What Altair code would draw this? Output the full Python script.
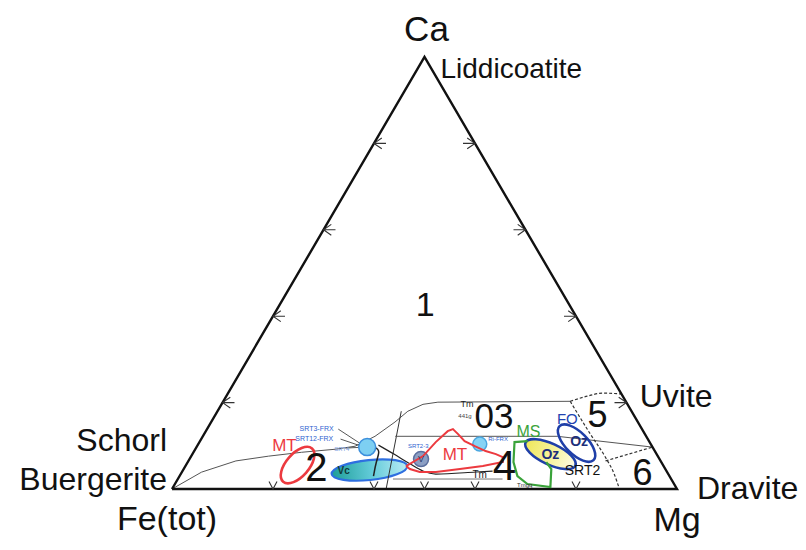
import altair as alt
import pandas as pd

FONT = "Liberation Sans"

# ---------------- data (ternary compositions: Ca, Mg; Fe = 1 - Ca - Mg) -------------
tri_ca = [0, 0, 1, 0]
tri_mg = [0, 1, 0, 0]

tick_vals = [0.2, 0.4, 0.6, 0.8]
bottom_tick_mg = [0.2, 0.4, 0.5, 0.6, 0.8]

# solid field boundaries
curve_a_ca = [0, 0.039, 0.065, 0.076, 0.085, 0.092, 0.099, 0.122, 0.155, 0.180, 0.196, 0.201, 0.203]
curve_a_mg = [0, 0.039, 0.094, 0.153, 0.214, 0.277, 0.313, 0.341, 0.364, 0.377, 0.399, 0.426, 0.687]
vert_ca = [0.180, 0.0]
vert_mg = [0.364, 0.424]
mid_ca = [0.122, 0.122, 0.097]
mid_mg = [0.381, 0.702, 0.903]

# dotted / dashed boundaries (fields 5 and 6)
arc5_ca = [0.203, 0.215, 0.222, 0.220]
arc5_mg = [0.687, 0.715, 0.741, 0.780]
curve56_ca = [0.203, 0.127, 0.074, 0.035, 0.0]
curve56_mg = [0.687, 0.765, 0.821, 0.858, 0.886]
dash6_ca = [0.065, 0.097]
dash6_mg = [0.826, 0.903]

# thin drawn lines
tm_ca = [0.1016, 0.0808, 0.0577, 0.0416, 0.0346, 0.0393, 0.0416]
tm_mg = [0.358, 0.399, 0.443, 0.476, 0.505, 0.582, 0.614]
base_ca = [0.0231, 0.0231]
base_mg = [0.426, 0.643]
hook_ca = [0.099, 0.097, 0.088, 0.065, 0.030]
hook_mg = [0.336, 0.355, 0.368, 0.372, 0.384]
lead_ca = [0.1386, 0.0993, 0.1155, 0.097, 0.0947, 0.097]
lead_mg = [0.260, 0.331, 0.276, 0.332, 0.296, 0.333]
lead_id = ["a", "a", "b", "b", "c", "c"]

# red MT field (closed loop)
mt_ca = [0.0531, 0.0762, 0.1085, 0.1339, 0.1386, 0.1270, 0.1109, 0.0993, 0.0878, 0.0808,
         0.0739, 0.0624, 0.0531, 0.0462, 0.0393, 0.0393, 0.0462, 0.0531]
mt_mg = [0.437, 0.459, 0.468, 0.479, 0.487, 0.503, 0.524, 0.550, 0.577, 0.601,
         0.618, 0.624, 0.589, 0.547, 0.503, 0.471, 0.448, 0.437]
# green MS field
ms_ca = [0.1109, 0.1085, 0.0624, 0.0300, 0.0115, 0.0046, 0.0462, 0.0624]
ms_mg = [0.649, 0.624, 0.645, 0.669, 0.698, 0.747, 0.728, 0.710]

# ellipse / circle centres
mt_ell = (0.0554, 0.221)
vc_ell = (0.0439, 0.369)
oz_yel = (0.0808, 0.709)
oz_blue = (0.1062, 0.748)
circ1 = (0.097, 0.338)
circ2 = (0.0693, 0.4585)
circ3 = (0.1039, 0.5575)

# field numbers
field_txt = ["1", "2", "03", "4", "5", "6"]
field_ca = [0.423, 0.046, 0.166, 0.051, 0.169, 0.035]
field_mg = [0.290, 0.263, 0.5546, 0.633, 0.758, 0.914]

# ---------------- helpers ----------------
X0, X1 = -0.32475, 1.23961
Y0, Y1 = -0.12268, 1.11343
XE = alt.X("x:Q", scale=alt.Scale(domain=[X0, X1], nice=False, zero=False), axis=None)
YE = alt.Y("y:Q", scale=alt.Scale(domain=[Y0, Y1], nice=False, zero=False), axis=None)


def pts(ca, mg, **cols):
    df = pd.DataFrame({"ca": ca, "mg": mg, **cols})
    df["x"] = df["mg"] + df["ca"] / 2
    df["y"] = df["ca"]
    df["i"] = range(len(df))
    return df


def line(df, detail=None, **mk):
    enc = dict(x=XE, y=YE, order="i:Q")
    if detail:
        enc["detail"] = detail
    return alt.Chart(df).mark_line(**mk).encode(**enc)


def label(txt, ca, mg, **mk):
    df = pts([ca], [mg], t=[txt])
    return alt.Chart(df).mark_text(font=FONT, **mk).encode(x=XE, y=YE, text="t:N")


def ell_path(k):
    c = 0.5523
    a, b = round(c * k, 4), round(k, 4)
    return (f"M 1 0 C 1 {a} {c} {b} 0 {b} C {-c} {b} -1 {a} -1 0 "
            f"C -1 {-a} {-c} {-b} 0 {-b} C {c} {-b} 1 {-a} 1 0 Z")


def sym(centre, **mk):
    df = pts([centre[0]], [centre[1]])
    return alt.Chart(df).mark_point(**mk).encode(x=XE, y=YE)


layers = []

# filled ellipses first
vc_grad = alt.Gradient(gradient="linear", x1=0, y1=0, x2=1, y2=0,
                       stops=[alt.GradientStop(color="#1f9e98", offset=0),
                              alt.GradientStop(color="#5fc9d6", offset=0.5),
                              alt.GradientStop(color="#b9ecf6", offset=1)])
layers.append(sym(vc_ell, shape=ell_path(0.263), size=5776, angle=354, filled=True,
                  fill=vc_grad, stroke="#2e6fe0", strokeWidth=2.2, opacity=1))
yel_grad = alt.Gradient(gradient="linear", x1=0, y1=0, x2=1, y2=0,
                        stops=[alt.GradientStop(color="#efe65a", offset=0),
                               alt.GradientStop(color="#f7f3a0", offset=0.55),
                               alt.GradientStop(color="#fdfbe6", offset=1)])
layers.append(sym(oz_yel, shape=ell_path(0.38), size=3025, angle=25, filled=True,
                  fill=yel_grad, stroke="#1f3fa8", strokeWidth=2.6, opacity=1))

# boundaries
gray = "#555555"
layers.append(line(pts(curve_a_ca, curve_a_mg), color=gray, strokeWidth=1))
layers.append(line(pts(vert_ca, vert_mg), color="#333333", strokeWidth=1))
layers.append(line(pts(mid_ca, mid_mg), color=gray, strokeWidth=1))
layers.append(line(pts(arc5_ca, arc5_mg), color="#333333", strokeWidth=1.2,
                   strokeDash=[3, 2], interpolate="monotone"))
layers.append(line(pts(curve56_ca, curve56_mg), color="#333333", strokeWidth=1.2,
                   strokeDash=[3, 2], interpolate="monotone"))
layers.append(line(pts(dash6_ca, dash6_mg), color="#333333", strokeWidth=1.2, strokeDash=[3, 2]))
layers.append(line(pts(tm_ca, tm_mg), color="#222222", strokeWidth=1.2, interpolate="monotone"))
layers.append(line(pts(base_ca, base_mg), color="#777777", strokeWidth=1))
layers.append(line(pts(hook_ca, hook_mg), color="#222222", strokeWidth=1.5, interpolate="basis"))
layers.append(line(pts(lead_ca, lead_mg, g=lead_id), detail="g:N", color="#444444", strokeWidth=0.9))

# triangle
layers.append(line(pts(tri_ca, tri_mg), color="#111111", strokeWidth=2.4))

# ticks (arrow heads)
left_tick = pts(tick_vals, [0] * 4)
right_tick = pts(tick_vals, [1 - v for v in tick_vals])
bottom_tick = pts([0] * len(bottom_tick_mg), bottom_tick_mg)
layers.append(alt.Chart(left_tick).mark_point(
    shape="M 1.3 -0.9 L 0 0 L 1.3 0.9 M 0 0 L 2 0", size=144, filled=False,
    color="#333333", strokeWidth=1.1, opacity=1).encode(x=XE, y=YE))
layers.append(alt.Chart(right_tick).mark_point(
    shape="M -1.3 -0.9 L 0 0 L -1.3 0.9 M 0 0 L -2 0", size=144, filled=False,
    color="#333333", strokeWidth=1.1, opacity=1).encode(x=XE, y=YE))
layers.append(alt.Chart(bottom_tick).mark_point(
    shape="M -0.8 -1.5 L 0 0 L 0.8 -1.5", size=100, filled=False,
    color="#333333", strokeWidth=1.1, opacity=1).encode(x=XE, y=YE))

# circles
layers.append(sym(circ1, shape="circle", size=289, filled=True, fill="#7dcff2",
                  stroke="#3c8fdc", strokeWidth=1.5, opacity=1))
layers.append(sym(circ2, shape="circle", size=225, filled=True, fill="#8c9fc4",
                  stroke="#5b6f9e", strokeWidth=1.5, opacity=1))
layers.append(sym(circ3, shape="circle", size=196, filled=True, fill="#86d3f5",
                  stroke="#4ba7e0", strokeWidth=1.5, opacity=1))

# outlined fields
layers.append(sym(mt_ell, shape=ell_path(0.52), size=1936, angle=311, filled=False,
                  stroke="#ec3a3f", strokeWidth=2.6, opacity=1))
layers.append(sym(oz_blue, shape=ell_path(0.46), size=2304, angle=45, filled=False,
                  stroke="#1f3fa8", strokeWidth=2.6, opacity=1))
layers.append(line(pts(mt_ca, mt_mg), color="#ec3a3f", strokeWidth=2))
layers.append(line(pts(ms_ca, ms_mg), color="#3aa33a", strokeWidth=2.2))

# field numbers
sizes = {"1": 34, "2": 40, "03": 35, "4": 42, "5": 36, "6": 36}
for t, ca, mg in zip(field_txt, field_ca, field_mg):
    layers.append(label(t, ca, mg, fontSize=sizes[t], color="#111111",
                        align="center", baseline="middle"))

# vertex / end-member labels
layers.append(label("Ca", 1, 0, fontSize=35, color="#111111", align="center",
                    baseline="middle", dx=2, dy=-27))
layers.append(label("Liddicoatite", 1, 0, fontSize=28, color="#111111", align="left",
                    baseline="middle", dx=16, dy=13))
layers.append(label("Uvite", 0.215, 0.785, fontSize=32, color="#111111", align="left",
                    baseline="middle", dx=17, dy=1))
layers.append(label("Dravite", 0, 1, fontSize=32, color="#111111", align="left",
                    baseline="middle", dx=20, dy=0))
layers.append(label("Mg", 0, 1, fontSize=34, color="#111111", align="center",
                    baseline="middle", dx=0, dy=32))
layers.append(label("Fe(tot)", 0, 0, fontSize=34, color="#111111", align="center",
                    baseline="middle", dx=-5, dy=31))
layers.append(label("Schorl", 0, 0, fontSize=32, color="#111111", align="right",
                    baseline="middle", dx=-5, dy=-48))
layers.append(label("Buergerite", 0, 0, fontSize=32, color="#111111", align="right",
                    baseline="middle", dx=-5, dy=-9))

# sample labels
layers.append(label("MT", 0.0993, 0.173, fontSize=17, color="#ec3a3f", align="center", baseline="middle"))
layers.append(label("MT", 0.0785, 0.521, fontSize=17, color="#ec3a3f", align="center", baseline="middle"))
layers.append(label("MS", 0.1316, 0.640, fontSize=16, color="#3aa33a", align="center", baseline="middle"))
layers.append(label("FO", 0.1617, 0.702, fontSize=15, color="#2143b0", align="center", baseline="middle"))
layers.append(label("Oz", 0.0785, 0.710, fontSize=14, fontWeight="bold", color="#1d2f7a",
                    align="center", baseline="middle"))
layers.append(label("Oz", 0.1085, 0.752, fontSize=14, fontWeight="bold", color="#1d2f7a",
                    align="center", baseline="middle"))
layers.append(label("SRT2", 0.0416, 0.792, fontSize=14, color="#111111", align="center", baseline="middle"))
layers.append(label("Vc", 0.0416, 0.319, fontSize=10, fontWeight="bold", color="#123a3a",
                    align="center", baseline="middle"))
layers.append(label("V", 0.0693, 0.4585, fontSize=9, color="#2d3f6a", align="center", baseline="middle"))
layers.append(label("SRT3-FRX", 0.1386, 0.217, fontSize=7, color="#2f5fd0", align="center", baseline="middle"))
layers.append(label("SRT12-FRX", 0.1155, 0.224, fontSize=7, color="#2f5fd0", align="center", baseline="middle"))
layers.append(label("SRT4", 0.0926, 0.290, fontSize=6, color="#7da0e0", align="center", baseline="middle"))
layers.append(label("SRT2-3", 0.0993, 0.438, fontSize=6, color="#2f5fd0", align="center", baseline="middle"))
layers.append(label("Ri-FRX", 0.1155, 0.588, fontSize=6, color="#2f5fd0", align="center", baseline="middle"))
layers.append(label("Tm", 0.1968, 0.486, fontSize=9, color="#222222", align="center", baseline="middle"))
layers.append(label("441g", 0.169, 0.4957, fontSize=6, color="#444444", align="center", baseline="middle"))
layers.append(label("Tm", 0.0323, 0.593, fontSize=10, color="#222222", align="center", baseline="middle"))
layers.append(label("Tmgq", 0.0092, 0.694, fontSize=6, color="#333333", align="center", baseline="middle"))

chart = alt.layer(*layers).properties(
    width=790, height=534, padding=0, autosize=alt.AutoSizeParams(type="none"),
    background="white"
).configure_view(strokeWidth=0)

chart.save("out.html", embed_options={"renderer": "svg", "actions": False})
